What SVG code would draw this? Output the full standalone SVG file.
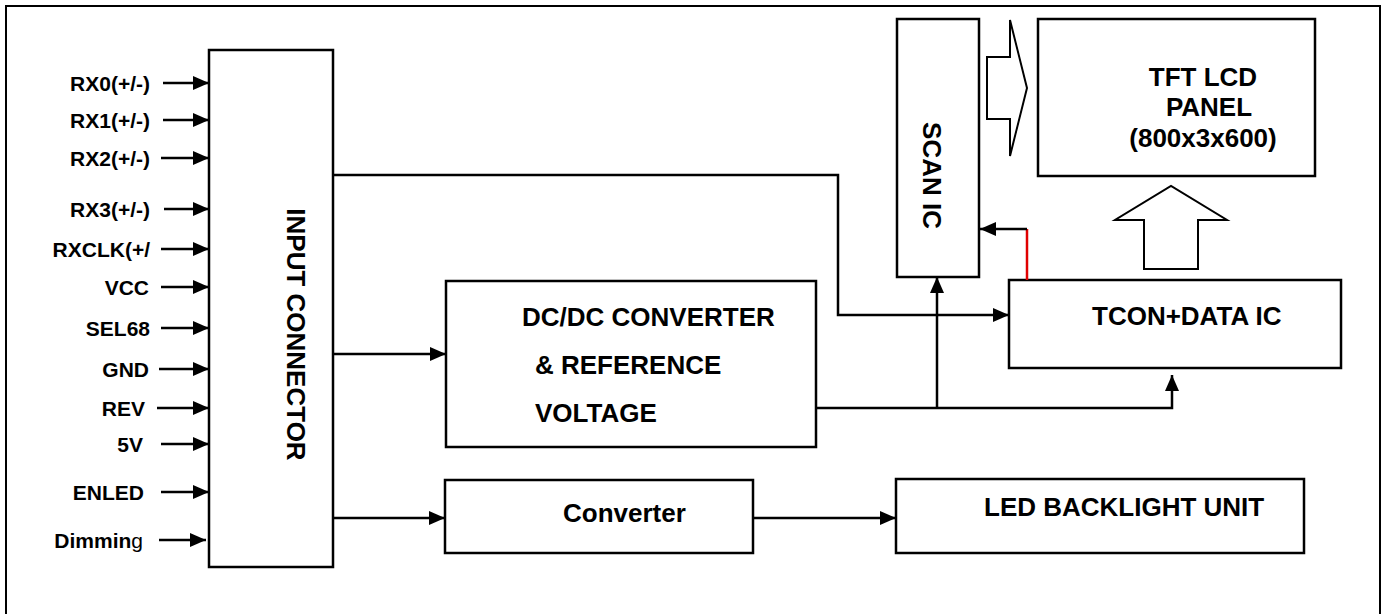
<svg xmlns="http://www.w3.org/2000/svg" width="1387" height="614" viewBox="0 0 1387 614">
<defs>
<marker id="ah" viewBox="0 0 16 14" refX="16" refY="7" markerWidth="16" markerHeight="14" markerUnits="userSpaceOnUse" orient="auto">
<path d="M0,0 L16,7 L0,14 Z" fill="#000"/>
</marker>
<style>
.box{fill:#fff;stroke:#000;stroke-width:2.5}
.hollow{fill:#fff;stroke:#000;stroke-width:2}
.wire{fill:none;stroke:#000;stroke-width:2.5}
.red{fill:none;stroke:#e00000;stroke-width:2.5}
.arr{marker-end:url(#ah)}
.lbl{font-family:"Liberation Sans",Arial,sans-serif;font-weight:bold;font-size:21px;text-anchor:end}
.big{font-family:"Liberation Sans",Arial,sans-serif;font-weight:bold;font-size:26px}
.mid{text-anchor:middle}
</style>
</defs>
<rect width="1387" height="614" fill="#fff"/>
<path d="M6,614 L6,6 L1380,6 L1380,614" fill="none" stroke="#000" stroke-width="2"/>

<g id="input-connector">
<rect class="box" x="209" y="50" width="124" height="517"/>
<text class="big mid" transform="translate(296,334.5) rotate(90)" x="0" y="9.5">INPUT CONNECTOR</text>
</g>

<g id="input-labels">
<text class="lbl" x="150" y="91">RX0(+/-)</text>
<text class="lbl" x="150" y="128">RX1(+/-)</text>
<text class="lbl" x="150" y="166">RX2(+/-)</text>
<text class="lbl" x="150" y="217">RX3(+/-)</text>
<text class="lbl" x="150" y="257">RXCLK(+/</text>
<text class="lbl" x="149" y="295">VCC</text>
<text class="lbl" x="150" y="336">SEL68</text>
<text class="lbl" x="149" y="377">GND</text>
<text class="lbl" x="145" y="416">REV</text>
<text class="lbl" x="143" y="452">5V</text>
<text class="lbl" x="144" y="500">ENLED</text>
<text class="lbl" x="143" y="548">Dimmin<tspan font-weight="normal">g</tspan></text>
</g>

<g id="scan-ic">
<rect class="box" x="897" y="19" width="82" height="258"/>
<text class="big mid" transform="translate(932,175.5) rotate(90)" x="0" y="9.5">SCAN IC</text>
</g>

<g id="tft-lcd-panel">
<rect class="box" x="1038" y="19" width="277" height="157"/>
<text class="big mid" x="1203" y="86">TFT LCD</text>
<text class="big mid" x="1209" y="116">PANEL</text>
<text class="big mid" x="1203" y="147">(800x3x600)</text>
</g>

<g id="tcon-data-ic">
<rect class="box" x="1009" y="280" width="332" height="88"/>
<text class="big" x="1092" y="325">TCON+DATA IC</text>
</g>

<g id="dcdc-converter">
<rect class="box" x="446" y="281" width="370" height="166"/>
<text class="big" x="522" y="326">DC/DC CONVERTER</text>
<text class="big" x="535" y="374">&amp; REFERENCE</text>
<text class="big" x="535" y="422">VOLTAGE</text>
</g>

<g id="converter">
<rect class="box" x="445" y="480" width="308" height="73"/>
<text class="big" x="563" y="522">Converter</text>
</g>

<g id="led-backlight-unit">
<rect class="box" x="896" y="479" width="408" height="74"/>
<text class="big" x="984" y="516">LED BACKLIGHT UNIT</text>
</g>

<g id="connectors">
<line class="wire arr" x1="163" y1="83" x2="209" y2="83"/>
<line class="wire arr" x1="163" y1="120" x2="209" y2="120"/>
<line class="wire arr" x1="161" y1="158" x2="209" y2="158"/>
<line class="wire arr" x1="164" y1="209" x2="209" y2="209"/>
<line class="wire arr" x1="161" y1="249" x2="209" y2="249"/>
<line class="wire arr" x1="161" y1="287" x2="209" y2="287"/>
<line class="wire arr" x1="161" y1="328" x2="209" y2="328"/>
<line class="wire arr" x1="159" y1="369" x2="209" y2="369"/>
<line class="wire arr" x1="157" y1="408" x2="209" y2="408"/>
<line class="wire arr" x1="161" y1="444" x2="209" y2="444"/>
<line class="wire arr" x1="161" y1="492" x2="209" y2="492"/>
<line class="wire arr" x1="159" y1="540" x2="206" y2="540"/>

<polyline class="wire arr" points="333,175 838,175 838,315 1009,315"/>
<line class="wire arr" x1="333" y1="354" x2="446" y2="354"/>
<line class="wire arr" x1="333" y1="518" x2="445" y2="518"/>
<line class="wire arr" x1="753" y1="518" x2="896" y2="518"/>
<polyline class="wire arr" points="816,408 1172,408 1172,375"/>
<line class="wire arr" x1="937" y1="408" x2="937" y2="277"/>
<line class="red" x1="1027" y1="229" x2="1027" y2="280"/>
<line class="wire arr" x1="1027" y1="229" x2="980" y2="229"/>

<polygon class="hollow" points="987,57 1010,57 1010,20 1027,88 1010,156 1010,119 987,119"/>
<polygon class="hollow" points="1144,269 1144,220 1115,220 1171,186 1227,220 1198,220 1198,269"/>
</g>
</svg>
